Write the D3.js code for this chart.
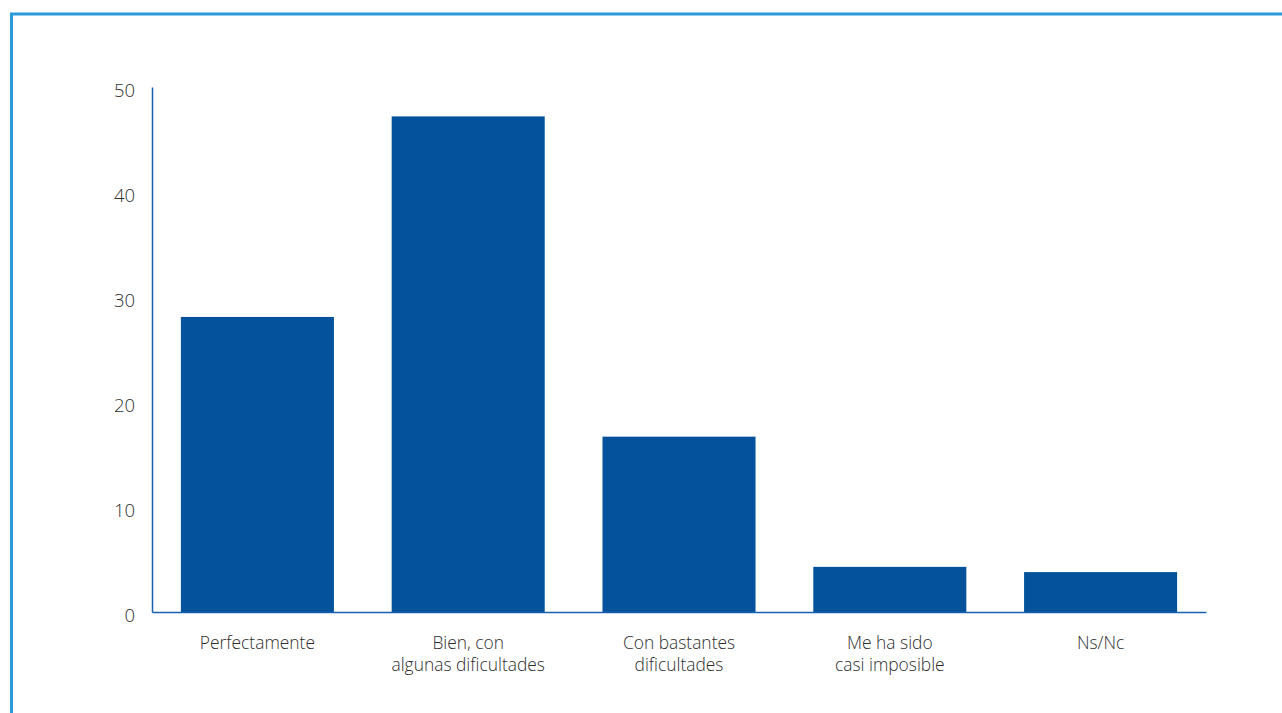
<!DOCTYPE html>
<html>
<head>
<meta charset="utf-8">
<script src="https://cdn.jsdelivr.net/npm/d3@7"></script>
<style>
  html, body { margin: 0; padding: 0; background: #fff; overflow: hidden; }
  svg { display: block; }
</style>
</head>
<body>
<svg id="chart" width="1282" height="713"></svg>
<script>
const categories = [
  ["Perfectamente"],
  ["Bien, con", "algunas dificultades"],
  ["Con bastantes", "dificultades"],
  ["Me ha sido", "casi imposible"],
  ["Ns/Nc"]
];
const values = [28.1, 47.2, 16.7, 4.3, 3.8];
const yTicks = [0, 10, 20, 30, 40, 50];

(function () {
const svg = d3.select("#chart");
const fontFam = "'Open Sans', 'Noto Sans', sans-serif";

// frame
svg.append("rect")
  .attr("x", 11.5).attr("y", 14)
  .attr("width", 1400).attr("height", 800)
  .attr("fill", "none")
  .attr("stroke", "#2a9bd8")
  .attr("stroke-width", 3);

const plotLeft = 152, plotRight = 1206, plotTop = 87, plotBottom = 612;

const x = d3.scaleBand()
  .domain(d3.range(categories.length))
  .range([plotLeft, plotRight])
  .paddingInner(0.274)
  .paddingOuter(0.137);

const y = d3.scaleLinear().domain([0, 50]).range([plotBottom, plotTop]);

// bars
svg.append("g").selectAll("rect")
  .data(values)
  .join("rect")
  .attr("x", (d, i) => x(i))
  .attr("y", d => y(d))
  .attr("width", x.bandwidth())
  .attr("height", d => y(0) - y(d))
  .attr("fill", "#03529b");

// y axis
const yAxis = svg.append("g")
  .attr("transform", `translate(${plotLeft},0)`)
  .call(d3.axisLeft(y).tickValues(yTicks).tickSize(0).tickPadding(17).tickFormat(d3.format("d")));
yAxis.select(".domain").attr("stroke", "#1b5fae").attr("stroke-width", 1.5);
yAxis.selectAll("text")
  .attr("font-family", fontFam)
  .attr("font-size", 18.5)
  .attr("font-weight", 300)
  .attr("fill", "#2e2e2e")
  .attr("dy", "0.5em");

// x axis
const xAxis = svg.append("g")
  .attr("transform", `translate(0,${plotBottom})`)
  .call(d3.axisBottom(x).tickSize(0).tickFormat(""));
xAxis.select(".domain").attr("stroke", "#1b5fae").attr("stroke-width", 1.5);

// category labels
xAxis.selectAll(".tick").each(function (d) {
  const t = d3.select(this).append("text")
    .attr("font-family", fontFam)
    .attr("font-size", 17.4)
    .attr("font-weight", 300)
    .attr("fill", "#2e2e2e")
    .attr("text-anchor", "middle")
    .attr("y", 37);
  categories[d].forEach((line, j) => {
    t.append("tspan").attr("x", 0).attr("dy", j === 0 ? 0 : 22).text(line);
  });
});
})();
</script>
</body>
</html>
